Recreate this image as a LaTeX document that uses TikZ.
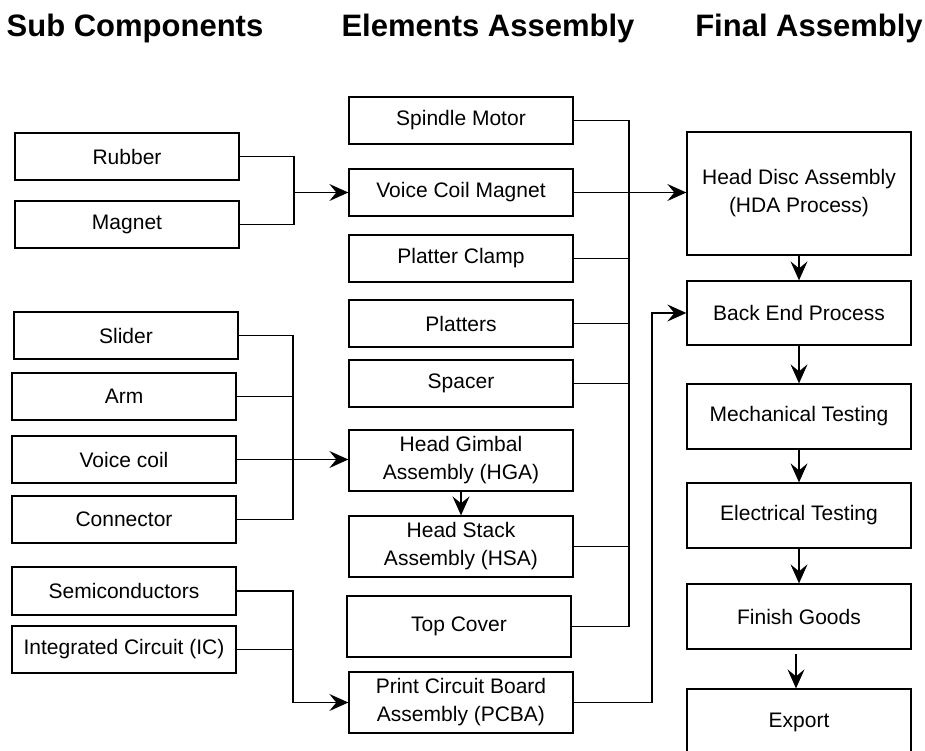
\documentclass[tikz,border=0pt]{standalone}
\usepackage{fontspec}
\setmainfont{Liberation Sans}
\usepackage{tikz}
\usetikzlibrary{arrows.meta}

\tikzset{
  box/.style={draw, line width=1.3pt, inner sep=0pt, align=center,
    minimum width=224pt, font=\fontsize{21}{28}\selectfont},
  title/.style={anchor=base, font=\fontsize{31}{36}\selectfont\bfseries},
  arr/.style={-{Stealth[length=19pt,width=17pt,inset=7pt]}},
}

\begin{document}
\begin{tikzpicture}[x=1pt, y=-1pt, line width=1.3pt]
  \useasboundingbox (0,0) rectangle (925,751);

  % column titles
  \node[title] (tsub) at (135,37) {Sub Components};
  \node[title] (telem) at (488,37) {Elements Assembly};
  \node[title] (tfinal) at (809,37) {Final Assembly};

  % sub components
  \node[box, minimum height=47pt] (rubber) at (127,156.5) {Rubber};
  \node[box, minimum height=47pt] (magnet) at (127,224.5) {Magnet};
  \node[box, minimum height=47pt] (slider) at (126,335.5) {Slider};
  \node[box, minimum height=47pt] (arm) at (124,396.5) {Arm};
  \node[box, minimum height=47pt] (vcoil) at (124,459.5) {Voice coil};
  \node[box, minimum height=47pt] (conn) at (124,519.5) {Connector};
  \node[box, minimum height=48pt] (semi) at (124,591) {Semiconductors};
  \node[box, minimum height=47pt] (ic) at (124,649.5) {Integrated Circuit (IC)};

  % elements assembly
  \node[box, minimum height=47pt] (spindle) at (461,120.5) {Spindle Motor};
  \node[box, minimum height=47pt] (vcm) at (461,192.5) {Voice Coil Magnet};
  \node[box, minimum height=47pt] (clamp) at (461,258.5) {Platter Clamp};
  \node[box, minimum height=47pt] (platters) at (461,323.5) {Platters};
  \node[box, minimum height=47pt] (spacer) at (461,383.5) {Spacer};
  \node[box, minimum height=61pt] (hga) at (461,460.5) {Head Gimbal\\Assembly (HGA)};
  \node[box, minimum height=61pt] (hsa) at (461,546.5) {Head Stack\\Assembly (HSA)};
  \node[box, minimum height=61pt] (cover) at (459,626.5) {Top Cover};
  \node[box, minimum height=61pt] (pcba) at (461,702.5) {Print Circuit Board\\Assembly (PCBA)};

  % final assembly
  \node[box, minimum height=123pt] (hda) at (799,193.5) {Head Disc Assembly\\(HDA Process)};
  \node[box, minimum height=64pt] (backend) at (799,313) {Back End Process};
  \node[box, minimum height=65pt] (mech) at (799,416.5) {Mechanical Testing};
  \node[box, minimum height=65pt] (elec) at (799,515.5) {Electrical Testing};
  \node[box, minimum height=65pt] (finish) at (799,616.5) {Finish Goods};
  \node[box, minimum height=66pt] (export) at (799,722) {Export};

  % junction lines
  \coordinate (j1) at (294,192.5);
  \coordinate (j2) at (293,0);
  \coordinate (bus) at (629,0);
  \coordinate (j3) at (652,0);

  % rubber + magnet -> voice coil magnet
  \draw (rubber.east) -| (j1);
  \draw (magnet.east) -| (j1);
  \draw[arr] (j1) -- (j1 -| vcm.west);

  % slider, arm, voice coil, connector -> HGA
  \draw (slider.east) -| (j2 |- conn.east) -- (conn.east);
  \draw (arm.east) -- (arm.east -| j2);
  \draw[arr] (vcoil.east) -- (vcoil.east -| hga.west);
  \draw[arr] (hga.south) -- (hsa.north);

  % semiconductors + IC -> PCBA
  \draw[arr] (semi.east) -| (j2 |- pcba.west) -- (pcba.west);
  \draw (ic.east) -- (ic.east -| j2);

  % elements -> HDA
  \draw (spindle.east) -| (bus |- cover.east) -- (cover.east);
  \draw (clamp.east) -- (clamp.east -| bus);
  \draw (platters.east) -- (platters.east -| bus);
  \draw (spacer.east) -- (spacer.east -| bus);
  \draw (hsa.east) -- (hsa.east -| bus);
  \draw[arr] (vcm.east) -- (vcm.east -| hda.west);

  % PCBA -> back end
  \draw[arr] (pcba.east) -| (j3 |- backend.west) -- (backend.west);

  % final chain
  \draw[arr] (hda.south) -- (backend.north);
  \draw[arr] (backend.south) -- (mech.north);
  \draw[arr] (mech.south) -- (elec.north);
  \draw[arr] (elec.south) -- (finish.north);
  \draw[arr] ([xshift=-3pt,yshift=-4pt]finish.south) -- ([xshift=-3pt]export.north);
\end{tikzpicture}
\end{document}
